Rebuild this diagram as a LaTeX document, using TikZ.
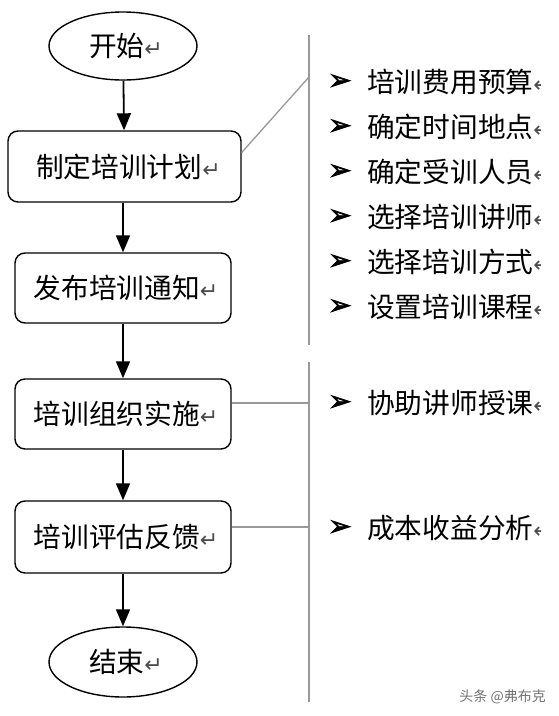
\documentclass[tikz,border=0pt]{standalone}
\usepackage{fontspec}
\setmainfont{Noto Sans CJK SC}
\newfontfamily\symfont{DejaVu Sans}
\newfontfamily\bulfont[FakeBold=2.5]{DejaVu Sans}
\usetikzlibrary{arrows.meta,shapes.geometric}
\newcommand{\rt}{{\symfont\fontsize{22}{22}\selectfont\color{black!70}↵}}
\begin{document}
\begin{tikzpicture}[x=1pt,y=-1pt,
  flowbox/.style={draw, line width=1.4pt, rounded corners=10pt, minimum width=216pt, minimum height=70pt, inner sep=0pt, font=\fontsize{27.7}{30}\selectfont},
  term/.style={draw, ellipse, line width=1.4pt, minimum width=148pt, minimum height=68pt, inner sep=0pt, font=\fontsize{27.7}{30}\selectfont},
  flow/.style={line width=1.8pt, -{Triangle[width=14pt,length=17pt]}},
  guide/.style={draw=black!40, line width=1.3pt},
  bullet/.style={inner sep=0pt, font=\bulfont\fontsize{28}{28}\selectfont},
  item/.style={inner sep=0pt, anchor=west, font=\fontsize{27.7}{30}\selectfont},
  wmark/.style={inner sep=0pt, anchor=east, font=\fontsize{14}{14}\selectfont, text=black!55}
]
\useasboundingbox[fill=white] (0,0) rectangle (558,716);

% flow chart
\node[term] (start) at (123,46) {\hspace*{6pt}开始\rt};
\node[flowbox, minimum width=233pt, minimum height=71pt] (b1) at (124.5,166.5) {\hspace*{8pt}制定培训计划\rt};
\node[flowbox] (b2) at (123,288) {\hspace*{6pt}发布培训通知\rt};
\node[flowbox] (b3) at (123,414) {\hspace*{6pt}培训组织实施\rt};
\node[flowbox, minimum height=72pt] (b4) at (123,537) {\hspace*{6pt}培训评估反馈\rt};
\node[term, minimum height=70pt] (end) at (123,662) {\hspace*{6pt}结束\rt};

\draw[flow] (start) -- (b1);
\draw[flow] (b1.south -| start) -- (b2.north -| start);
\draw[flow] (b2) -- (b3);
\draw[flow] (b3) -- (b4);
\draw[flow] (b4) -- (end);

% guide lines
\coordinate (v1a) at (309,35);
\coordinate (v1b) at (309,345);
\coordinate (v2a) at (309,362);
\coordinate (v2b) at (309,702);
\coordinate (d1) at (309,77);
\coordinate (h3) at (309,403);
\coordinate (h4) at (309,527);
\draw[guide] (v1a) -- (v1b);
\draw[guide] (v2a) -- (v2b);
\draw[guide] ([yshift=14pt]b1.east) -- (d1);
\draw[guide] ([yshift=11pt]b3.east) -- (h3);
\draw[guide] ([yshift=10pt]b4.east) -- (h4);

% items
\begin{scope}
\clip (0,0) rectangle (540,716);
\foreach \t [count=\i from 0] in {培训费用预算,确定时间地点,确定受训人员,选择培训讲师,选择培训方式,设置培训课程}{
  \node[bullet] (bu\i) at (340,82+45*\i) {➢};
  \node[item] (it\i) at (367,82+45*\i) {\t\rt};
}
\node[bullet] (bu6) at (340,403) {➢};
\node[item] (it6) at (367,403) {协助讲师授课\rt};
\node[bullet] (bu7) at (340,528) {➢};
\node[item] (it7) at (367,528) {成本收益分析\rt};
\end{scope}

\node[wmark] (wm) at (546,697) {头条 @弗布克};
\end{tikzpicture}
\end{document}
